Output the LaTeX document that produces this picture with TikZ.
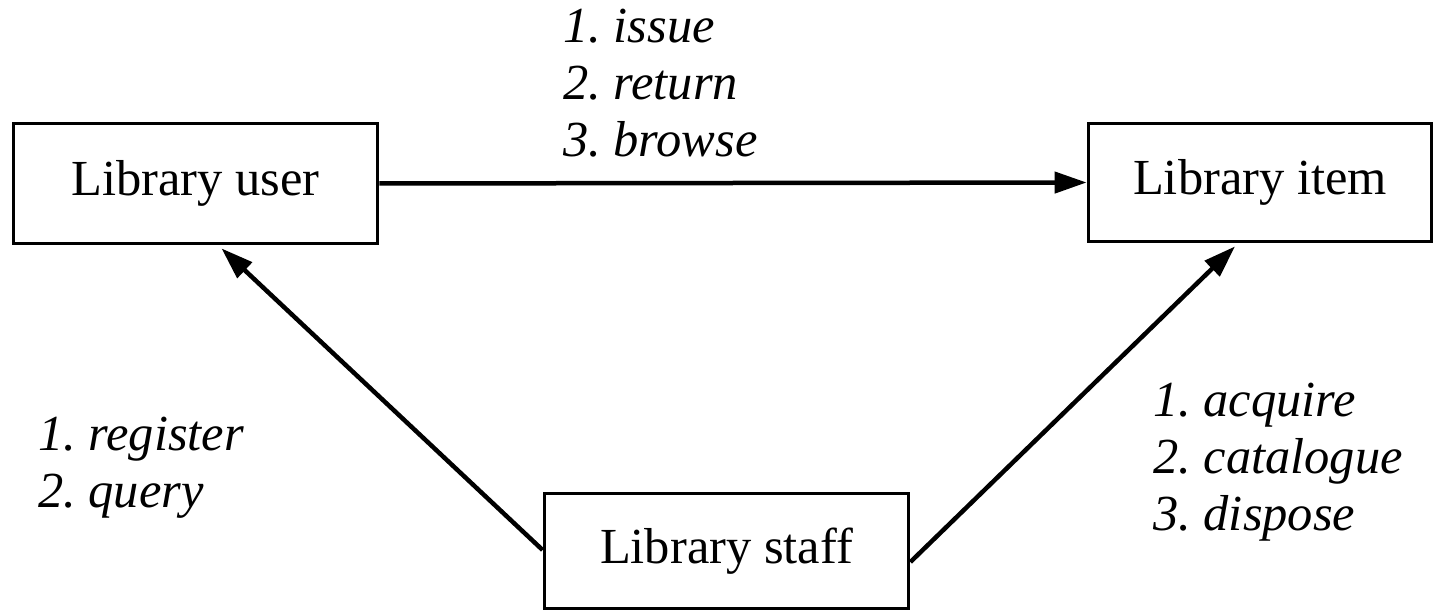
\documentclass[tikz,border=0pt]{standalone}
\usepackage{fontspec}
\setmainfont{Liberation Serif}
\usetikzlibrary{arrows.meta}
\frenchspacing

\tikzset{
  entity/.style={draw, line width=3.8bp, inner sep=0pt, align=center,
    font=\fontsize{50.5bp}{56bp}\selectfont},
  flow/.style={line width=4.5bp, -{Triangle[length=32bp, width=21bp]}},
  % base anchor of a multi-line node sits on its last line
  ops/.style={anchor=base west, inner sep=0pt, align=left,
    font=\fontsize{50.5bp}{57bp}\selectfont\itshape}
}

\begin{document}
\begin{tikzpicture}[x=1bp, y=-1bp]
  \useasboundingbox (0,0) rectangle (1439,613);

  % the three actors
  \node[entity, minimum width=364bp, minimum height=120bp] (user)  at (195.5,183.5) {Library user};
  \node[entity, minimum width=343bp, minimum height=118bp] (item)  at (1260,182.5)  {Library item};
  \node[entity, minimum width=364bp, minimum height=115bp] (staff) at (726.5,551)   {Library staff};

  % interactions between them
  \draw[flow] (user.east) -- (item.west);
  \draw[flow] ([yshift=1bp]staff.west) -- ([xshift=26bp,yshift=-3bp]user.south);
  \draw[flow] ([yshift=-11bp]staff.east) -- ([xshift=-25bp,yshift=-3bp]item.south);

  % operation lists
  \node[ops] (opsui) at (563,157)  {1. issue\\2. return\\3. browse};
  \node[ops] (opsus) at (38,507)   {1. register\\2. query};
  \node[ops] (opsst) at (1153,530) {1. acquire\\2. catalogue\\3. dispose};
\end{tikzpicture}
\end{document}
